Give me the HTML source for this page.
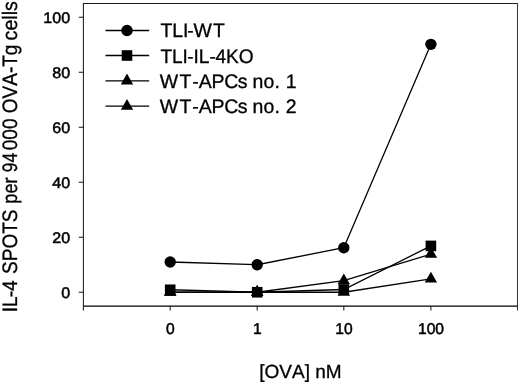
<!DOCTYPE html><html><head><meta charset="utf-8"><style>html,body{margin:0;padding:0;background:#fff}svg{display:block;will-change:transform}.t{font-family:"Liberation Sans",sans-serif;font-kerning:none;text-rendering:geometricPrecision}</style></head><body><svg width="520" height="383" viewBox="0 0 520 383">
<rect width="520" height="383" fill="#fff"/>
<g stroke="#1c1c1c" stroke-width="1.05" fill="none">
<path d="M83.4 310.5V3.4H517.5"/>
<path d="M517.5 2.9V310.5" stroke="#3a3a3a"/>
<path d="M83.4 306.1H517.5" stroke="#000" stroke-width="1.25"/>
<path d="M78.8 292.25H83.4"/>
<path d="M78.8 237.25H83.4"/>
<path d="M78.8 182.25H83.4"/>
<path d="M78.8 127.25H83.4"/>
<path d="M78.8 72.25H83.4"/>
<path d="M78.8 17.25H83.4"/>
<path d="M170.20 306.1V310.5"/>
<path d="M257.20 306.1V310.5"/>
<path d="M343.80 306.1V310.5"/>
<path d="M430.90 306.1V310.5"/>
</g>
<g stroke="#000" stroke-width="1.3" fill="none">
<polyline points="170.20,262.00 257.20,264.75 343.80,247.70 430.90,44.34"/>
<polyline points="170.20,289.77 257.20,292.25 343.80,289.50 430.90,245.91"/>
<polyline points="170.20,292.25 257.20,292.25 343.80,280.70 430.90,254.16"/>
<polyline points="170.20,292.25 257.20,292.25 343.80,292.25 430.90,278.91"/>
<path d="M105.5 30.50H149.2"/>
<path d="M105.5 55.50H149.2"/>
<path d="M105.5 80.80H149.2"/>
<path d="M105.5 106.20H149.2"/>
</g>
<g fill="#000">
<circle cx="170.20" cy="262.00" r="5.7"/>
<circle cx="257.20" cy="264.75" r="5.7"/>
<circle cx="343.80" cy="247.70" r="5.7"/>
<circle cx="430.90" cy="44.34" r="5.7"/>
<rect x="164.90" y="284.47" width="10.6" height="10.6"/>
<rect x="251.90" y="286.95" width="10.6" height="10.6"/>
<rect x="338.50" y="284.20" width="10.6" height="10.6"/>
<rect x="425.60" y="240.61" width="10.6" height="10.6"/>
<path d="M170.20 285.05L176.40 295.85L164.00 295.85Z"/>
<path d="M257.20 285.05L263.40 295.85L251.00 295.85Z"/>
<path d="M343.80 273.50L350.00 284.30L337.60 284.30Z"/>
<path d="M430.90 246.96L437.10 257.76L424.70 257.76Z"/>
<path d="M170.20 285.05L176.40 295.85L164.00 295.85Z"/>
<path d="M257.20 285.05L263.40 295.85L251.00 295.85Z"/>
<path d="M343.80 285.05L350.00 295.85L337.60 295.85Z"/>
<path d="M430.90 271.71L437.10 282.51L424.70 282.51Z"/>
<circle cx="127.00" cy="30.50" r="5.7"/>
<rect x="121.70" y="50.20" width="10.6" height="10.6"/>
<path d="M127.00 73.60L133.20 84.40L120.80 84.40Z"/>
<path d="M127.00 99.00L133.20 109.80L120.80 109.80Z"/>
</g>
<g class="t" fill="#000" stroke="#000" stroke-width="0.3">
<text transform="translate(70.1 297.85) scale(1.05 1)" font-size="15.3" stroke-width="0.5" text-anchor="end">0</text>
<text transform="translate(70.1 242.85) scale(1.05 1)" font-size="15.3" stroke-width="0.5" text-anchor="end">20</text>
<text transform="translate(70.1 187.85) scale(1.05 1)" font-size="15.3" stroke-width="0.5" text-anchor="end">40</text>
<text transform="translate(70.1 132.85) scale(1.05 1)" font-size="15.3" stroke-width="0.5" text-anchor="end">60</text>
<text transform="translate(70.1 77.85) scale(1.05 1)" font-size="15.3" stroke-width="0.5" text-anchor="end">80</text>
<text transform="translate(70.1 22.85) scale(1.05 1)" font-size="15.3" stroke-width="0.5" text-anchor="end">100</text>
<text transform="translate(170.30 334.15) scale(1 1)" font-size="15.6" stroke-width="0.5" text-anchor="middle">0</text>
<text transform="translate(257.30 334.15) scale(1 1)" font-size="15.6" stroke-width="0.5" text-anchor="middle">1</text>
<text transform="translate(343.90 334.15) scale(1 1)" font-size="15.6" stroke-width="0.5" text-anchor="middle">10</text>
<text transform="translate(431.00 334.15) scale(1 1)" font-size="15.6" stroke-width="0.5" text-anchor="middle">100</text>
<text transform="translate(0 37.4) scale(1.0232 1.03)" x="156.76 168.39 178.75 183.05 189.21 208.17" y="0" font-size="19">TLI-WT</text>
<text transform="translate(0 62.6) scale(1.0046 1.03)" x="159.67 171.32 181.57 186.45 192.62 197.89 208.45 214.62 225.07 237.71" y="0" font-size="19">TLI-IL-4KO</text>
<text transform="translate(0 87.8) scale(1.0256 1.03)" x="155.81 175.02 187.40 193.74 206.22 218.70 231.77 241.32 246.29 256.92 267.55 273.01 278.67" y="0" font-size="19">WT-APCs no. 1</text>
<text transform="translate(0 112.6) scale(1.0256 1.03)" x="155.81 175.02 187.40 193.74 206.22 218.70 231.77 241.32 246.29 256.92 267.55 273.01 278.67" y="0" font-size="19">WT-APCs no. 2</text>
<text x="259.3" y="377.7" font-size="19">[OVA] nM</text>
<text transform="translate(16.5 312.2) rotate(-90) scale(1 1.1)" font-size="19"><tspan x="0 5.3 14.9 21.2">IL-4</tspan> <tspan x="38.3">SPOTS</tspan> <tspan x="108.5" textLength="26.2" lengthAdjust="spacingAndGlyphs">per</tspan> <tspan x="139.9" textLength="19.4" lengthAdjust="spacingAndGlyphs">94</tspan> <tspan x="162.0">000</tspan> <tspan x="199.0">OVA-Tg</tspan> <tspan x="271.8" textLength="39.2" lengthAdjust="spacingAndGlyphs">cells</tspan></text>
</g></svg></body></html>
